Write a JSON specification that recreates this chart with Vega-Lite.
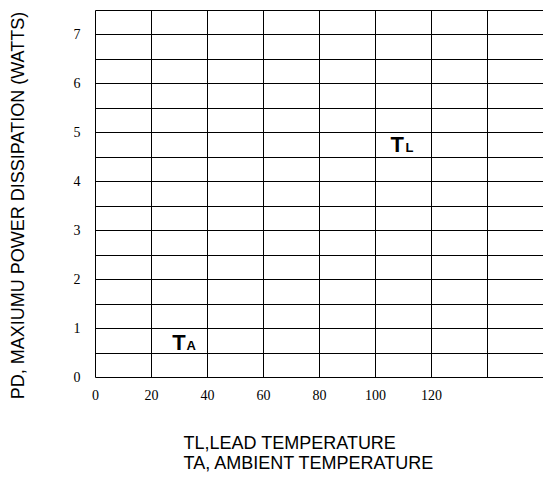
{
  "$schema": "https://vega.github.io/schema/vega-lite/v6.json",
  "autosize": "none",
  "padding": {"left": 95, "top": 10, "right": 0, "bottom": 105},
  "width": 448,
  "height": 367,
  "background": "white",
  "config": {"view": {"stroke": null}},
  "data": {
    "values": [
      {"glyph": "T", "part": "main", "temp": 105.5, "watts": 4.6},
      {"glyph": "L", "part": "sub", "temp": 110.9, "watts": 4.6},
      {"glyph": "T", "part": "main", "temp": 27.6, "watts": 0.55},
      {"glyph": "A", "part": "sub", "temp": 32.7, "watts": 0.55}
    ]
  },
  "encoding": {
    "x": {
      "field": "temp",
      "type": "quantitative",
      "scale": {"domain": [0, 160], "nice": false, "zero": false},
      "axis": {
        "values": [0, 20, 40, 60, 80, 100, 120, 140, 160],
        "labelExpr": "datum.value <= 120 ? format(datum.value, 'd') : ''",
        "grid": true,
        "gridColor": "black",
        "gridOpacity": 1,
        "gridWidth": 1,
        "domain": false,
        "ticks": false,
        "labelFlush": false,
        "labelFont": "Liberation Serif",
        "labelFontSize": 14,
        "labelColor": "black",
        "labelPadding": 11,
        "title": ["TL,LEAD TEMPERATURE", "TA, AMBIENT TEMPERATURE"],
        "titleFont": "Liberation Sans",
        "titleFontSize": 18,
        "titleFontWeight": "normal",
        "titleColor": "black",
        "titleAlign": "left",
        "titleAnchor": "start",
        "titleBaseline": "top",
        "titleLineHeight": 20,
        "titleX": 88,
        "titleY": 57
      }
    },
    "y": {
      "field": "watts",
      "type": "quantitative",
      "scale": {"domain": [0, 7.5], "nice": false, "zero": false},
      "axis": {
        "values": [0, 0.5, 1, 1.5, 2, 2.5, 3, 3.5, 4, 4.5, 5, 5.5, 6, 6.5, 7, 7.5],
        "labelExpr": "datum.value % 1 == 0 && datum.value < 7.5 ? format(datum.value, 'd') : ''",
        "grid": true,
        "gridColor": "black",
        "gridOpacity": 1,
        "gridWidth": 1,
        "domain": false,
        "ticks": false,
        "labelFont": "Liberation Serif",
        "labelFontSize": 14,
        "labelColor": "black",
        "labelPadding": 15,
        "title": "PD, MAXIUMU POWER DISSIPATION (WATTS)",
        "titleFont": "Liberation Sans",
        "titleFontSize": 18,
        "titleFontWeight": "normal",
        "titleColor": "black",
        "titleBaseline": "middle",
        "titleX": -77,
        "titleY": 195
      }
    }
  },
  "layer": [
    {
      "transform": [{"filter": "datum.part == 'main'"}],
      "mark": {"type": "text", "align": "left", "baseline": "alphabetic", "font": "Liberation Sans", "fontWeight": "bold", "fontSize": 22, "color": "black"},
      "encoding": {"text": {"field": "glyph"}}
    },
    {
      "transform": [{"filter": "datum.part == 'sub'"}],
      "mark": {"type": "text", "align": "left", "baseline": "alphabetic", "font": "Liberation Sans", "fontWeight": "bold", "fontSize": 13, "color": "black"},
      "encoding": {"text": {"field": "glyph"}}
    }
  ]
}
